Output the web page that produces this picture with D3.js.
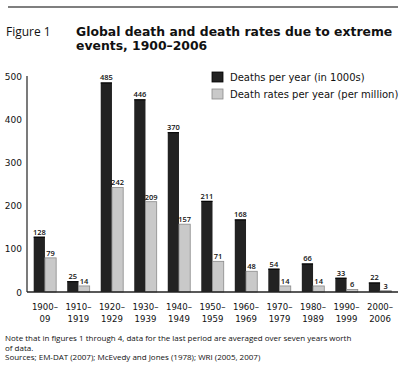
<!DOCTYPE html>
<html>
<head>
<meta charset="utf-8">
<script src="https://cdn.jsdelivr.net/npm/d3@7"></script>
<style>
  body { margin: 0; background: #fff; }
  svg text { font-family: "DejaVu Sans", sans-serif; fill: #111; }
</style>
</head>
<body>
<div id="chart"></div>
<script>
// periods (two label lines each)
var periods = [
    ["1900–", "09"], ["1910–", "1919"], ["1920–", "1929"], ["1930–", "1939"],
    ["1940–", "1949"], ["1950–", "1959"], ["1960–", "1969"], ["1970–", "1979"],
    ["1980–", "1989"], ["1990–", "1999"], ["2000–", "2006"]
];
var deathsPerYear = [128, 25, 485, 446, 370, 211, 168, 54, 66, 33, 22];   // in 1000s
var deathRates = [79, 14, 242, 209, 157, 71, 48, 14, 14, 6, 3];           // per million
var yTicks = [0, 100, 200, 300, 400, 500];
var seriesNames = ["Deaths per year (in 1000s)", "Death rates per year (per million)"];

var width = 409, height = 381;
var svg = d3.select("#chart").append("svg")
    .attr("width", width)
    .attr("height", height);

// top rule
svg.append("line")
    .attr("x1", 8).attr("x2", 398)
    .attr("y1", 7).attr("y2", 7)
    .attr("stroke", "#555").attr("stroke-width", 1.5);

// title
svg.append("text").attr("x", 6).attr("y", 36)
    .style("font-family", "'Open Sans', sans-serif")
    .style("font-size", "12px").text("Figure 1");
svg.append("text").attr("x", 76).attr("y", 36)
    .style("font-size", "12.4px").style("font-weight", "bold")
    .text("Global death and death rates due to extreme");
svg.append("text").attr("x", 76).attr("y", 50)
    .style("font-size", "12.4px").style("font-weight", "bold")
    .text("events, 1900–2006");

var x0 = 27, x1 = 398;
var yScale = d3.scaleLinear().domain([0, 500]).range([292, 76]);
var xScale = d3.scaleBand()
    .domain(d3.range(periods.length))
    .range([x0, x1])
    .paddingInner(0.33)
    .paddingOuter(0.2);
var subScale = d3.scaleBand()
    .domain([0, 1])
    .range([0, xScale.bandwidth()]);

var rows = periods.map(function(p, i) {
    return { i: i, vals: [deathsPerYear[i], deathRates[i]] };
});

// y axis line and labels
svg.append("line")
    .attr("x1", x0).attr("x2", x0)
    .attr("y1", yScale(500)).attr("y2", yScale(0))
    .attr("stroke", "#222").attr("stroke-width", 1.2);
svg.selectAll(".ytick")
    .data(yTicks)
    .enter().append("text")
    .attr("class", "ytick")
    .attr("x", 22)
    .attr("y", function(d) { return yScale(d) + 3.5; })
    .attr("text-anchor", "end")
    .style("font-size", "9px")
    .text(function(d) { return d; });

// bars
var groups = svg.selectAll(".grp")
    .data(rows)
    .enter().append("g")
    .attr("class", "grp")
    .attr("transform", function(d) { return "translate(" + xScale(d.i) + ",0)"; });

groups.selectAll("rect")
    .data(function(d) { return d.vals.map(function(v, k) { return { k: k, v: v }; }); })
    .enter().append("rect")
    .attr("x", function(d) { return subScale(d.k); })
    .attr("y", function(d) { return yScale(d.v); })
    .attr("width", subScale.bandwidth())
    .attr("height", function(d) { return yScale(0) - yScale(d.v); })
    .attr("fill", function(d) { return d.k == 0 ? "#222" : "#c9c9c9"; })
    .attr("stroke", function(d) { return d.k == 0 ? "none" : "#8a8a8a"; })
    .attr("stroke-width", 0.8);

// black top edge on the dark bars
groups.append("line")
    .attr("x1", 0).attr("x2", subScale.bandwidth())
    .attr("y1", function(d) { return yScale(d.vals[0]) + 0.5; })
    .attr("y2", function(d) { return yScale(d.vals[0]) + 0.5; })
    .attr("stroke", "#000").attr("stroke-width", 1);

groups.selectAll(".val")
    .data(function(d) { return d.vals.map(function(v, k) { return { k: k, v: v }; }); })
    .enter().append("text")
    .attr("class", "val")
    .attr("x", function(d) { return subScale(d.k) + subScale.bandwidth() / 2; })
    .attr("y", function(d) { return yScale(d.v) - 2; })
    .attr("text-anchor", "middle")
    .style("font-family", "'Open Sans', sans-serif")
    .style("font-size", "7.5px")
    .style("font-weight", "600")
    .text(function(d) { return d.v; });

// x axis baseline
svg.append("line")
    .attr("x1", x0).attr("x2", x1)
    .attr("y1", yScale(0)).attr("y2", yScale(0))
    .attr("stroke", "#222").attr("stroke-width", 1.5);

// x labels
var xl = svg.selectAll(".xlab")
    .data(periods)
    .enter().append("text")
    .attr("class", "xlab")
    .attr("text-anchor", "middle")
    .style("font-family", "'Liberation Sans Narrow', 'DejaVu Sans Condensed', sans-serif")
    .style("font-size", "9.5px");
xl.append("tspan")
    .attr("x", function(d, i) { return xScale(i) + xScale.bandwidth() / 2; })
    .attr("y", 310)
    .text(function(d) { return d[0]; });
xl.append("tspan")
    .attr("x", function(d, i) { return xScale(i) + xScale.bandwidth() / 2; })
    .attr("y", 322)
    .text(function(d) { return d[1]; });

// legend
var legend = svg.selectAll(".leg")
    .data(seriesNames)
    .enter().append("g")
    .attr("class", "leg")
    .attr("transform", function(d, i) { return "translate(212," + (72 + i * 17) + ")"; });
legend.append("rect")
    .attr("width", 11).attr("height", 10)
    .attr("fill", function(d, i) { return i == 0 ? "#222" : "#c9c9c9"; })
    .attr("stroke", function(d, i) { return i == 0 ? "#000" : "#8a8a8a"; })
    .attr("stroke-width", 0.8);
legend.append("text")
    .attr("x", 18).attr("y", 9)
    .style("font-size", "10px")
    .text(function(d) { return d; });

// notes
var notes = [
    "Note that in figures 1 through 4, data for the last period are averaged over seven years worth",
    "of data.",
    "Sources; EM-DAT (2007); McEvedy and Jones (1978); WRI (2005, 2007)"
];
svg.selectAll(".note")
    .data(notes)
    .enter().append("text")
    .attr("class", "note")
    .attr("x", 5)
    .attr("y", function(d, i) { return 341 + i * 9.5; })
    .style("font-family", "'Open Sans', sans-serif")
    .style("font-size", "8px")
    .text(function(d) { return d; });
</script>
</body>
</html>
